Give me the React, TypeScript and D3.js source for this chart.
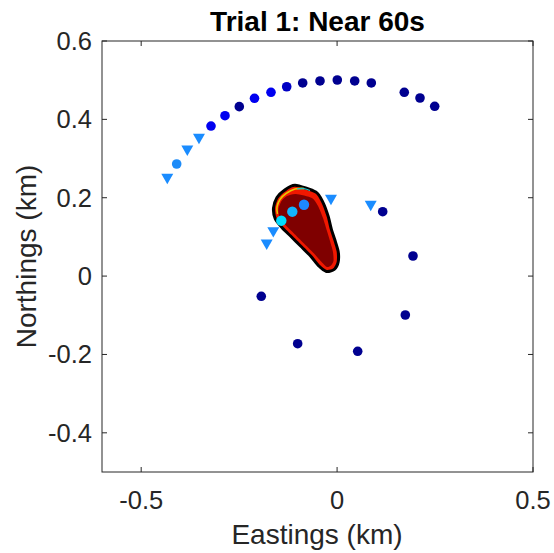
import * as d3 from 'd3';

// ring of markers, metres converted to km
const navyPts: [number, number][] = [
  [-0.2496, 0.4324], [-0.0878, 0.4929], [-0.0436, 0.498], [0.0005, 0.5005],
  [0.0449, 0.498], [0.0873, 0.4929], [0.1715, 0.4691], [0.2116, 0.4545],
  [0.2491, 0.4334], [0.1164, 0.1644], [-0.1935, -0.0516], [-0.1006, -0.1725],
  [0.0526, -0.1919], [0.1741, -0.0993], [0.1937, 0.0513],
];
const bluePts: [number, number][] = [
  [-0.3218, 0.3829], [-0.2861, 0.4094], [-0.2108, 0.4538], [-0.1687, 0.4691],
];
const midBluePts: [number, number][] = [[-0.1286, 0.4832]];
const lightPts: [number, number][] = [[-0.4094, 0.2861]];
const trianglePts: [number, number][] = [
  [-0.4334, 0.2496], [-0.3823, 0.3218], [-0.3525, 0.3517],
  [-0.0156, 0.196], [0.0858, 0.1807], [-0.1628, 0.1133], [-0.1797, 0.0819],
];
const cyanPts: [number, number][] = [
  [-0.1424, 0.1414], [-0.1143, 0.1644], [-0.0845, 0.1822],
];
const cyanShades = ['#00dcff', '#12b4ff', '#1e88ff'];

// source footprint contours
const blobOuter: [number, number][] = [
  [-0.1075, 0.2282], [-0.0564, 0.2113], [-0.0393, 0.1858], [-0.0265, 0.1516],
  [-0.0181, 0.1177], [-0.0097, 0.0921], [-0.001, 0.0623], [-0.001, 0.0368],
  [-0.0097, 0.0199], [-0.0265, 0.0156], [-0.0436, 0.0283], [-0.0648, 0.0539],
  [-0.0904, 0.0794], [-0.1159, 0.1049], [-0.1373, 0.1261], [-0.1542, 0.1475],
  [-0.1585, 0.173], [-0.1501, 0.1986], [-0.133, 0.2154],
];
const blobCore: [number, number][] = [
  [-0.1049, 0.2095], [-0.0641, 0.1993], [-0.0487, 0.1789], [-0.036, 0.148],
  [-0.0258, 0.1149], [-0.0181, 0.0893], [-0.0105, 0.0615], [-0.0092, 0.0385],
  [-0.0156, 0.0271], [-0.0258, 0.0232], [-0.0385, 0.0347], [-0.0602, 0.059],
  [-0.0858, 0.0845], [-0.1113, 0.11], [-0.1317, 0.1304], [-0.147, 0.1508],
  [-0.1496, 0.1712], [-0.1419, 0.1917], [-0.1279, 0.2044],
];
const headRing: [number, number][] = [
  [-0.1521, 0.1585], [-0.1534, 0.1764], [-0.1458, 0.1955], [-0.1304, 0.2108],
  [-0.1075, 0.2223], [-0.0845, 0.2236],
];
const headTop: [number, number][] = [
  [-0.1023, 0.2228], [-0.0845, 0.2233], [-0.0692, 0.2185],
];

const xTicks = [-0.5, 0, 0.5];
const yTicks = [-0.4, -0.2, 0, 0.2, 0.4, 0.6];

const W = 554;
const H = 553;
const font = '"Liberation Sans", Arial, Helvetica, sans-serif';
const axisColor = '#262626';

export default function App() {
  const x = d3.scaleLinear().domain([-0.6, 0.5]).range([102, 533]);
  const y = d3.scaleLinear().domain([-0.5, 0.6]).range([472, 41]);
  const [x0, x1] = x.range();
  const [y0, y1] = y.range();

  const closed = d3
    .line<[number, number]>()
    .x((d) => x(d[0]))
    .y((d) => y(d[1]))
    .curve(d3.curveCardinalClosed.tension(0.3));
  const open = d3
    .line<[number, number]>()
    .x((d) => x(d[0]))
    .y((d) => y(d[1]))
    .curve(d3.curveCardinal);

  const tri = d3.symbol().type(d3.symbolTriangle).size(62)() ?? '';
  const fmt = (v: number) => (v === 0 ? '0' : String(v));

  const dots = (pts: [number, number][], fill: string, key: string) =>
    pts.map((d, i) => (
      <circle key={key + i} cx={x(d[0])} cy={y(d[1])} r={4.8} fill={fill} />
    ));

  return (
    <svg
      width={W}
      height={H}
      style={{ position: 'absolute', left: 0, top: 0, background: '#fff' }}
      fontFamily={font}
    >
      <rect width={W} height={H} fill="#fff" />

      {/* footprint blob */}
      <path d={closed(blobOuter) ?? ''} fill="#000" stroke="#000" strokeWidth={6} />
      <path d={closed(blobOuter) ?? ''} fill="#f01800" stroke="none" />
      <path d={open(headRing) ?? ''} fill="none" stroke="#e8c800" strokeWidth={1.6} />
      <path d={open(headTop) ?? ''} fill="none" stroke="#20c8c8" strokeWidth={1.3} />
      <path d={closed(blobCore) ?? ''} fill="#7f0000" />

      {/* markers */}
      {dots(navyPts, '#000090', 'n')}
      {dots(bluePts, '#0000f0', 'b')}
      {dots(midBluePts, '#0000c4', 'm')}
      {dots(lightPts, '#1e8cf8', 'l')}
      {trianglePts.map((d, i) => (
        <path
          key={'t' + i}
          d={tri}
          transform={`translate(${x(d[0])},${y(d[1]) - 1}) rotate(180)`}
          fill="#1a8cff"
        />
      ))}
      {cyanPts.map((d, i) => (
        <circle key={'c' + i} cx={x(d[0])} cy={y(d[1])} r={5.2} fill={cyanShades[i]} />
      ))}

      {/* axes box + ticks */}
      <rect
        x={x0}
        y={y1}
        width={x1 - x0}
        height={y0 - y1}
        fill="none"
        stroke={axisColor}
        strokeWidth={1}
      />
      {xTicks.map((t) => (
        <g key={'xt' + t}>
          <line x1={x(t)} x2={x(t)} y1={y0} y2={y0 - 5} stroke={axisColor} />
          <line x1={x(t)} x2={x(t)} y1={y1} y2={y1 + 5} stroke={axisColor} />
          <text
            x={x(t)}
            y={509}
            textAnchor="middle"
            fontSize={25.5}
            fill={axisColor}
          >
            {fmt(t)}
          </text>
        </g>
      ))}
      {yTicks.map((t) => (
        <g key={'yt' + t}>
          <line x1={x0} x2={x0 + 5} y1={y(t)} y2={y(t)} stroke={axisColor} />
          <line x1={x1} x2={x1 - 5} y1={y(t)} y2={y(t)} stroke={axisColor} />
          <text
            x={92}
            y={y(t) + 9}
            textAnchor="end"
            fontSize={25.5}
            fill={axisColor}
          >
            {fmt(t)}
          </text>
        </g>
      ))}

      <text x={317} y={544} textAnchor="middle" fontSize={28} fill={axisColor}>
        Eastings (km)
      </text>
      <text
        transform={`translate(36,${(y0 + y1) / 2}) rotate(-90)`}
        textAnchor="middle"
        fontSize={28}
        fill={axisColor}
      >
        Northings (km)
      </text>
      <text
        x={(x0 + x1) / 2}
        y={30.5}
        textAnchor="middle"
        fontSize={28}
        fontWeight="bold"
        fill="#000"
      >
        Trial 1: Near 60s
      </text>
    </svg>
  );
}
